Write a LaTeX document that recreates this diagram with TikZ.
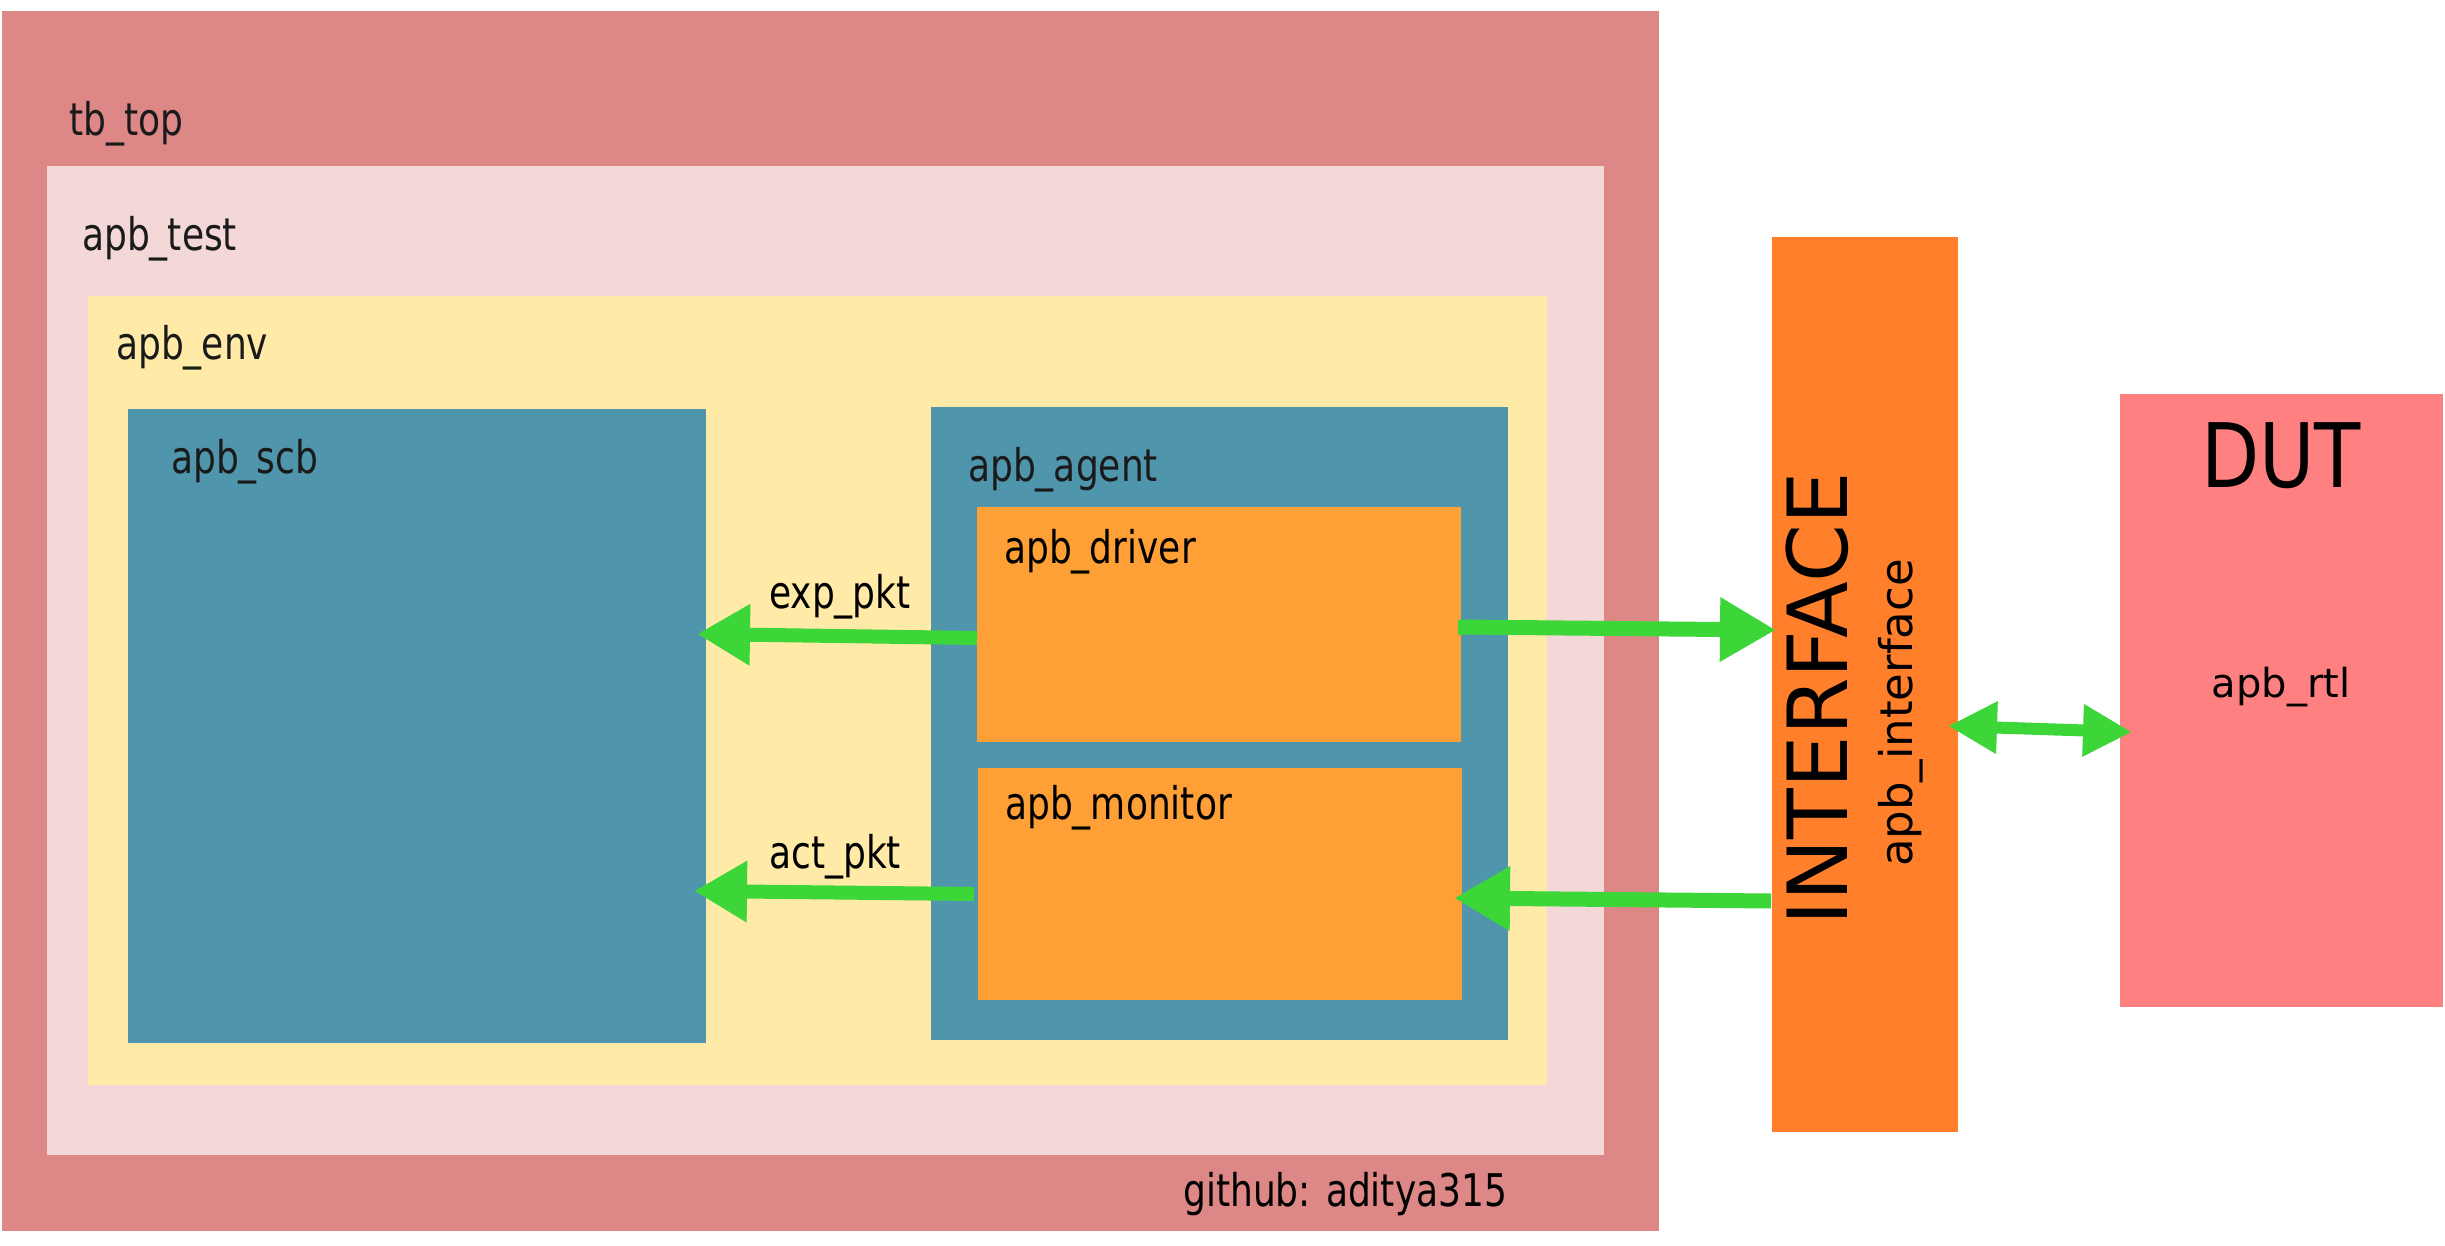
\documentclass[tikz,border=0pt]{standalone}
\usepackage{fontspec}
\usetikzlibrary{arrows.meta,calc}
\newfontfamily\lbl[FakeStretch=0.8]{DejaVu Sans}
\newfontfamily\dutfont[FakeStretch=0.85]{DejaVu Sans}
\newfontfamily\dvs{DejaVu Sans}
\definecolor{tbc}{HTML}{DD8787}
\definecolor{testc}{HTML}{F4D7D7}
\definecolor{envc}{HTML}{FFEAA8}
\definecolor{bluec}{HTML}{4F96AD}
\definecolor{orc}{HTML}{FFA037}
\definecolor{ifcc}{HTML}{FF7F2A}
\definecolor{dutc}{HTML}{FF8080}
\definecolor{grn}{HTML}{3DD639}
\definecolor{txt}{HTML}{1A1A1A}
\begin{document}
\begin{tikzpicture}[x=1pt,y=-1pt,
  blk/.style={draw=none,inner sep=0pt,outer sep=0pt,anchor=north west},
  lab/.style={inner sep=0pt,anchor=base west,font=\lbl\fontsize{45}{54}\selectfont},
  arr/.style={draw=grn,line width=14pt,-{Triangle[length=52pt,width=62pt,line width=0pt]}},
  arrb/.style={draw=grn,line width=15pt,-{Triangle[length=55pt,width=65pt,line width=0pt]}},
  darr/.style={draw=grn,line width=12pt,{Triangle[length=48pt,width=53pt,line width=0pt]}-{Triangle[length=48pt,width=53pt,line width=0pt]}}
]
\useasboundingbox (0,0) rectangle (2445,1246);
\fill[white] (0,0) rectangle (2445,1246);
% boxes
\node[blk,fill=tbc,minimum width=1657pt,minimum height=1220pt] (tb) at (2,11) {};
\node[blk,fill=testc,minimum width=1557pt,minimum height=989pt] (test) at (47,166) {};
\node[blk,fill=envc,minimum width=1459pt,minimum height=789pt] (env) at (88,296) {};
\node[blk,fill=bluec,minimum width=578pt,minimum height=634pt] (scb) at (128,409) {};
\node[blk,fill=bluec,minimum width=577pt,minimum height=633pt] (agent) at (931,407) {};
\node[blk,fill=orc,minimum width=484pt,minimum height=235pt] (drv) at (977,507) {};
\node[blk,fill=orc,minimum width=484pt,minimum height=232pt] (mon) at (978,768) {};
\node[blk,fill=ifcc,minimum width=186pt,minimum height=895pt] (ifc) at (1772,237) {};
\node[blk,fill=dutc,minimum width=323pt,minimum height=613pt] (dut) at (2120,394) {};
% labels
\node[lab,text=txt] (ltb) at (69,136) {tb\_top};
\node[lab,text=txt] (ltest) at (82,251) {apb\_test};
\node[lab,text=txt] (lenv) at (116,360) {apb\_env};
\node[lab,text=txt] (lscb) at (171,473) {apb\_scb};
\node[lab,text=txt] (lagent) at (968,482) {apb\_agent};
\node[lab] (ldrv) at (1004,563) {apb\_driver};
\node[lab] (lmon) at (1005,819) {apb\_monitor};
\node[lab] (lexp) at (769,608) {exp\_pkt};
\node[lab] (lact) at (769,868) {act\_pkt};
\node[lab] (lgit) at (1183,1206) {github: aditya315};
\node[inner sep=0pt,anchor=base,font=\dutfont\fontsize{89}{100}\selectfont] (ldut) at (2281,487) {DUT};
\node[inner sep=0pt,anchor=base,font=\dvs\fontsize{40}{46}\selectfont] (lrtl) at (2281,697) {apb\_rtl};
\node[inner sep=0pt,anchor=base,rotate=90,font=\dvs\fontsize{83}{92}\selectfont] (lifc) at (1847,699) {INTERFACE};
\node[inner sep=0pt,anchor=base,rotate=90,font=\dvs\fontsize{45}{52}\selectfont] (lapbi) at (1912,713) {apb\_interface};
% connectors
\draw[arr] ($(drv.west)+(0,13.5)$) -- ($(scb.east)+(-8,-92)$);
\draw[arr] ($(mon.west)+(-4,10)$) -- ($(scb.east)+(-11,165)$);
\draw[arrb] ($(drv.east)+(-3,2.5)$) -- ($(ifc.west)+(3,-54.5)$);
\draw[arrb] ($(ifc.west)+(-1,216.5)$) -- ($(mon.east)+(-7,14)$);
\draw[darr] ($(ifc.east)+(-9,41.5)$) -- ($(dut.west)+(11,31.5)$);
\end{tikzpicture}
\end{document}
